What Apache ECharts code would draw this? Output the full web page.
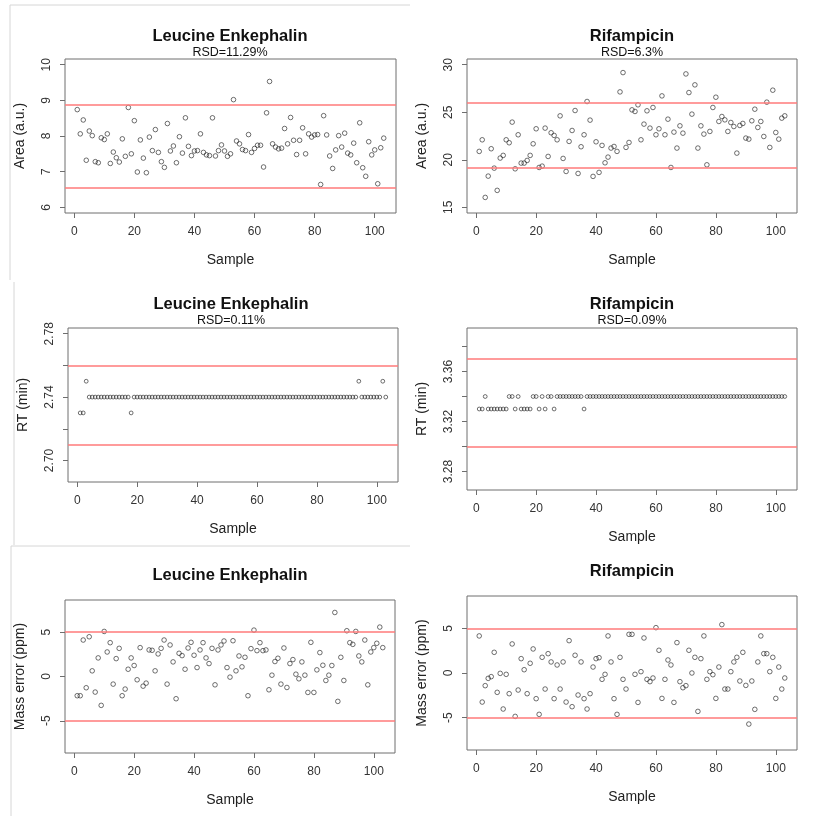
<!DOCTYPE html>
<html>
<head>
<meta charset="utf-8">
<script src="https://cdn.jsdelivr.net/npm/echarts@6/dist/echarts.min.js"></script>
<style>
  html, body { margin: 0; padding: 0; background: #fff; }
  #chart { width: 816px; height: 816px; }
</style>
</head>
<body>
<div id="chart"></div>
<script>
// sample numbers 1..103 on the x axis
const samples = [];
for (let i = 1; i <= 103; i++) samples.push(i);

const xTicks = [0, 20, 40, 60, 80, 100];

const leuArea = [
  8.74, 8.06, 8.45, 7.32, 8.14, 8.01, 7.28, 7.25, 7.95, 7.90,
  8.06, 7.23, 7.55, 7.39, 7.27, 7.92, 7.43, 8.80, 7.50, 8.43,
  6.99, 7.89, 7.38, 6.97, 7.97, 7.59, 8.18, 7.54, 7.28, 7.12,
  8.35, 7.58, 7.72, 7.25, 7.98, 7.52, 8.51, 7.71, 7.45, 7.58,
  7.59, 8.06, 7.54, 7.47, 7.45, 8.51, 7.44, 7.59, 7.75, 7.58,
  7.43, 7.50, 9.02, 7.86, 7.78, 7.62, 7.59, 8.04, 7.54, 7.65,
  7.74, 7.74, 7.13, 8.65, 9.53, 7.78, 7.69, 7.64, 7.66, 8.21,
  7.78, 8.52, 7.88, 7.48, 7.88, 8.23, 7.50, 8.06, 7.97, 8.03,
  8.04, 6.64, 8.57, 8.03, 7.44, 7.09, 7.61, 8.01, 7.69, 8.08,
  7.52, 7.47, 7.80, 7.25, 8.37, 7.11, 6.87, 7.84, 7.47, 7.61,
  6.66, 7.67, 7.94
];

const rifArea = [
  20.88, 22.10, 16.04, 18.28, 21.16, 19.12, 16.78, 20.18, 20.46, 22.10,
  21.79, 23.96, 19.05, 22.63, 19.65, 19.65, 19.93, 20.46, 21.68, 23.26,
  19.19, 19.33, 23.33, 20.35, 22.84, 22.56, 22.10, 24.62, 20.14, 18.77,
  21.93, 23.08, 25.18, 18.56, 21.37, 22.63, 26.13, 24.17, 18.25, 21.89,
  18.67, 21.51, 19.68, 20.28, 21.23, 21.40, 20.88, 27.14, 29.17, 21.30,
  21.82, 25.25, 25.08, 25.78, 22.10, 23.75, 25.15, 23.33, 25.50, 22.63,
  23.26, 26.72, 22.63, 24.27, 19.19, 22.91, 21.23, 23.57, 22.80, 29.03,
  27.07, 24.80, 27.88, 21.23, 23.57, 22.70, 19.47, 22.98, 25.50, 26.58,
  24.03, 24.55, 24.20, 22.98, 23.92, 23.50, 20.70, 23.61, 23.82, 22.28,
  22.17, 24.10, 25.32, 23.40, 24.03, 22.45, 26.06, 21.30, 27.32, 22.87,
  22.17, 24.38, 24.62
];

const leuRT = [
  2.73, 2.73, 2.75, 2.74, 2.74, 2.74, 2.74, 2.74, 2.74, 2.74,
  2.74, 2.74, 2.74, 2.74, 2.74, 2.74, 2.74, 2.73, 2.74, 2.74,
  2.74, 2.74, 2.74, 2.74, 2.74, 2.74, 2.74, 2.74, 2.74, 2.74,
  2.74, 2.74, 2.74, 2.74, 2.74, 2.74, 2.74, 2.74, 2.74, 2.74,
  2.74, 2.74, 2.74, 2.74, 2.74, 2.74, 2.74, 2.74, 2.74, 2.74,
  2.74, 2.74, 2.74, 2.74, 2.74, 2.74, 2.74, 2.74, 2.74, 2.74,
  2.74, 2.74, 2.74, 2.74, 2.74, 2.74, 2.74, 2.74, 2.74, 2.74,
  2.74, 2.74, 2.74, 2.74, 2.74, 2.74, 2.74, 2.74, 2.74, 2.74,
  2.74, 2.74, 2.74, 2.74, 2.74, 2.74, 2.74, 2.74, 2.74, 2.74,
  2.74, 2.74, 2.74, 2.75, 2.74, 2.74, 2.74, 2.74, 2.74, 2.74,
  2.74, 2.75, 2.74
];

const rifRT = [
  3.33, 3.33, 3.34, 3.33, 3.33, 3.33, 3.33, 3.33, 3.33, 3.33,
  3.34, 3.34, 3.33, 3.34, 3.33, 3.33, 3.33, 3.33, 3.34, 3.34,
  3.33, 3.34, 3.33, 3.34, 3.34, 3.33, 3.34, 3.34, 3.34, 3.34,
  3.34, 3.34, 3.34, 3.34, 3.34, 3.33, 3.34, 3.34, 3.34, 3.34,
  3.34, 3.34, 3.34, 3.34, 3.34, 3.34, 3.34, 3.34, 3.34, 3.34,
  3.34, 3.34, 3.34, 3.34, 3.34, 3.34, 3.34, 3.34, 3.34, 3.34,
  3.34, 3.34, 3.34, 3.34, 3.34, 3.34, 3.34, 3.34, 3.34, 3.34,
  3.34, 3.34, 3.34, 3.34, 3.34, 3.34, 3.34, 3.34, 3.34, 3.34,
  3.34, 3.34, 3.34, 3.34, 3.34, 3.34, 3.34, 3.34, 3.34, 3.34,
  3.34, 3.34, 3.34, 3.34, 3.34, 3.34, 3.34, 3.34, 3.34, 3.34,
  3.34, 3.34, 3.34
];

const leuMass = [
  -2.17, -2.17, 4.12, -1.27, 4.49, 0.64, -1.76, 2.10, -3.26, 5.09,
  2.77, 3.82, -0.86, 2.02, 3.18, -2.17, -1.42, 0.82, 2.10, 1.24,
  -0.37, 3.26, -1.09, -0.75, 3.00, 2.96, 0.64, 2.55, 3.18, 4.12,
  -0.86, 3.56, 1.65, -2.51, 2.62, 2.36, 0.82, 3.22, 3.86, 2.40,
  1.01, 3.00, 3.82, 2.10, 1.46, 3.18, -0.94, 3.00, 3.56, 4.01,
  1.01, -0.07, 4.04, 0.64, 2.32, 1.09, 2.17, -2.17, 3.15, 5.24,
  2.92, 3.82, 2.92, 3.00, -1.50, 0.15, 1.69, 2.06, -0.86, 3.22,
  -1.24, 1.46, 1.91, 0.26, -0.26, 1.65, 0.15, -1.80, 3.86, -1.80,
  0.75, 2.70, 1.27, -0.45, 0.15, 1.24, 7.23, -2.81, 2.17, -0.45,
  5.17, 3.82, 3.63, 5.09, 2.32, 1.65, 4.12, -0.94, 2.77, 3.26,
  3.75, 5.58, 3.26
];

const rifMass = [
  4.16, -3.26, -1.42, -0.60, -0.41, 2.32, -2.17, -0.04, -4.04, -0.15,
  -2.32, 3.26, -4.87, -1.91, 1.61, 0.37, -2.32, 1.09, 2.70, -2.88,
  -4.64, 1.76, -1.80, 2.17, 1.24, -2.88, 0.90, -1.80, 1.24, -3.26,
  3.63, -3.78, 1.99, -2.47, 1.24, -2.88, -4.04, -2.32, 0.67, 1.61,
  1.72, -0.71, -0.15, 4.16, 1.24, -2.88, -4.64, 1.76, -0.71, -1.80,
  4.34, 4.34, -0.15, -3.30, 0.15, 3.93, -0.71, -0.97, -0.56, 5.09,
  2.55, -2.85, -0.71, 1.46, 0.90, -3.30, 3.41, -0.97, -1.65, -1.42,
  2.55, 0.00, 1.76, -4.31, 1.61, 4.16, -0.71, 0.15, -0.19, -2.85,
  0.67, 5.43, -1.80, -1.80, 0.15, 1.24, 1.76, -0.90, 2.32, -1.39,
  -5.73, -0.90, -4.08, 1.24, 4.16, 2.17, 2.17, 0.15, 1.76, -2.85,
  0.67, -1.80, -0.56
];

// limit lines (red) for each panel
const leuAreaLimits = [8.88, 6.56];
const rifAreaLimits = [26.0, 19.2];
const leuRTLimits = [2.76, 2.71];
const rifRTLimits = [3.37, 3.30];
const massLimits = [5, -5];

const FONT = "Liberation Sans, Arial, sans-serif";
const BOX = "#6e6e6e";

const panels = [
  { box: [65, 59, 331, 154], values: leuArea, limits: leuAreaLimits, yName: "Area (a.u.)",
    yMin: 5.84, yMax: 10.16, yTicks: [6, 7, 8, 9, 10], yLabels: [6, 7, 8, 9, 10], dec: 0, size: 4.6 },
  { box: [467, 59, 330, 154], values: rifArea, limits: rifAreaLimits, yName: "Area (a.u.)",
    yMin: 14.4, yMax: 30.6, yTicks: [15, 20, 25, 30], yLabels: [15, 20, 25, 30], dec: 0, size: 4.6 },
  { box: [68, 328, 330, 154], values: leuRT, limits: leuRTLimits, yName: "RT (min)",
    yMin: 2.6864, yMax: 2.7836, yTicks: [2.70, 2.72, 2.74, 2.76, 2.78], yLabels: [2.70, 2.74, 2.78], dec: 2, size: 3.8 },
  { box: [467, 328, 330, 162], values: rifRT, limits: rifRTLimits, yName: "RT (min)",
    yMin: 3.2652, yMax: 3.3948, yTicks: [3.28, 3.30, 3.32, 3.34, 3.36, 3.38], yLabels: [3.28, 3.32, 3.36], dec: 2, size: 3.8 },
  { box: [65, 600, 330, 153], values: leuMass, limits: massLimits, yName: "Mass error (ppm)",
    yMin: -8.64, yMax: 8.64, yTicks: [-5, 0, 5], yLabels: [-5, 0, 5], dec: 0, size: 4.6 },
  { box: [467, 596, 330, 154], values: rifMass, limits: massLimits, yName: "Mass error (ppm)",
    yMin: -8.64, yMax: 8.64, yTicks: [-5, 0, 5], yLabels: [-5, 0, 5], dec: 0, size: 4.6 }
];

const titles = [
  { x: 230, y: 36, text: "Leucine Enkephalin", sub: "RSD=11.29%" },
  { x: 632, y: 36, text: "Rifampicin", sub: "RSD=6.3%" },
  { x: 231, y: 304, text: "Leucine Enkephalin", sub: "RSD=0.11%" },
  { x: 632, y: 304, text: "Rifampicin", sub: "RSD=0.09%" },
  { x: 230, y: 575, text: "Leucine Enkephalin", sub: "" },
  { x: 632, y: 571, text: "Rifampicin", sub: "" }
];

const grid = [], xAxis = [], yAxis = [], series = [];

panels.forEach((p, k) => {
  grid.push({
    left: p.box[0], top: p.box[1], width: p.box[2], height: p.box[3],
    show: true, borderColor: BOX, borderWidth: 1, backgroundColor: "transparent"
  });
  xAxis.push({
    gridIndex: k, type: "value", min: -3.08, max: 107.08,
    name: "Sample", nameLocation: "middle", nameGap: 40,
    nameTextStyle: { fontSize: 14, color: "#222", fontFamily: FONT },
    axisLine: { show: false, onZero: false },
    axisTick: { show: true, length: 5, customValues: xTicks, lineStyle: { color: BOX } },
    axisLabel: { customValues: xTicks, fontSize: 12, color: "#333", fontFamily: FONT, margin: 13 },
    splitLine: { show: false }
  });
  yAxis.push({
    gridIndex: k, type: "value", min: p.yMin, max: p.yMax,
    name: p.yName, nameLocation: "middle", nameGap: 38,
    nameTextStyle: { fontSize: 14, color: "#222", fontFamily: FONT },
    axisLine: { show: false, onZero: false },
    axisTick: { show: true, length: 5, customValues: p.yTicks, lineStyle: { color: BOX } },
    axisLabel: {
      customValues: p.yLabels, rotate: 90, fontSize: 12, color: "#333", fontFamily: FONT, margin: 12,
      formatter: v => Number(v).toFixed(p.dec)
    },
    splitLine: { show: false }
  });
  series.push({
    type: "scatter", xAxisIndex: k, yAxisIndex: k, silent: true,
    data: samples.map((s, i) => [s, p.values[i]]),
    symbol: "circle", symbolSize: p.size,
    itemStyle: { color: "rgba(0,0,0,0)", borderColor: "#1e1e1e", borderWidth: 0.8 },
    markLine: {
      silent: true, symbol: "none", label: { show: false },
      lineStyle: { color: "#ff7a7a", width: 1.6, type: "solid" },
      data: p.limits.map(v => ({ yAxis: v }))
    },
    z: 3
  });
});

const graphic = [];
titles.forEach(t => {
  graphic.push({
    type: "text", x: t.x, y: t.y,
    style: { text: t.text, align: "center", verticalAlign: "middle", font: "bold 16.5px " + FONT, fill: "#111" }
  });
  if (t.sub) {
    graphic.push({
      type: "text", x: t.x, y: t.y + 17,
      style: { text: t.sub, align: "center", verticalAlign: "middle", font: "12.5px " + FONT, fill: "#111" }
    });
  }
});

// faint frames of the pasted screenshots
const frameLines = [
  [10, 5, 410, 5], [10, 5, 10, 280],
  [14, 282, 14, 545],
  [11, 546, 410, 546], [11, 546, 11, 816]
];
frameLines.forEach(l => {
  graphic.push({
    type: "line", shape: { x1: l[0], y1: l[1], x2: l[2], y2: l[3] },
    style: { stroke: "#d6d6d6", lineWidth: 1 }, silent: true
  });
});

const chart = echarts.init(document.getElementById("chart"));
chart.setOption({
  backgroundColor: "#fff",
  animation: false,
  grid, xAxis, yAxis, series, graphic
});
</script>
</body>
</html>
